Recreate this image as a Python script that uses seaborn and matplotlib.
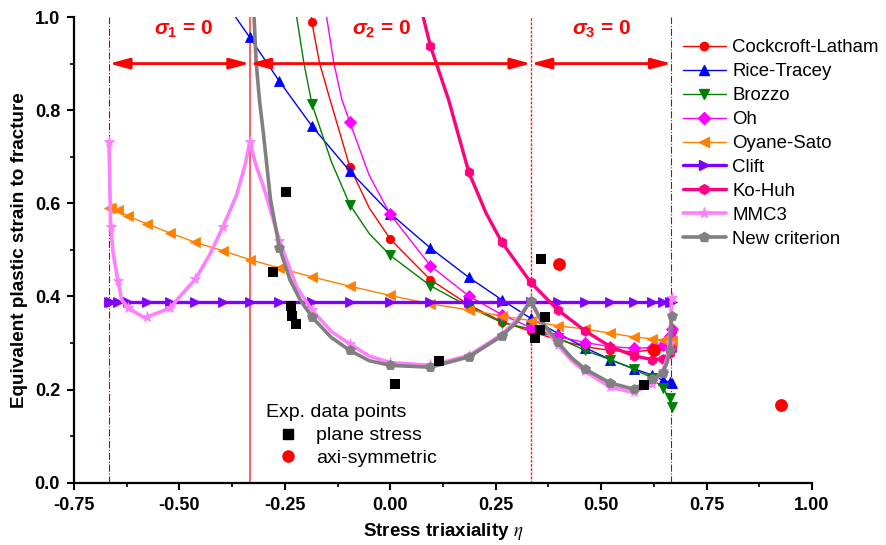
import matplotlib
matplotlib.use("Agg")
import matplotlib.pyplot as plt
import numpy as np
import pandas as pd
import seaborn as sns
from matplotlib.lines import Line2D

# stress triaxiality values where the curves carry markers
MARKER_ETA = [-0.667, -0.663, -0.646, -0.621, -0.577, -0.522, -0.462, -0.397, -0.333,
              -0.263, -0.186, -0.096, 0.0, 0.095, 0.186, 0.264, 0.333,
              0.397, 0.462, 0.522, 0.577, 0.621, 0.646, 0.663, 0.667]

cl_eta = [-0.187, -0.186, -0.168, -0.143, -0.096, -0.05, 0.0, 0.095, 0.186, 0.264, 0.333,
          0.397, 0.462, 0.522, 0.577, 0.621, 0.646, 0.663, 0.667]
cl_eps = [1.0, 0.989, 0.902, 0.823, 0.678, 0.59, 0.523, 0.436, 0.382, 0.346, 0.325,
          0.307, 0.292, 0.284, 0.281, 0.285, 0.293, 0.308, 0.325]

rt_eta = [-0.367, -0.333, -0.263, -0.186, -0.096, 0.0, 0.095, 0.186, 0.264, 0.333,
          0.397, 0.462, 0.522, 0.577, 0.621, 0.646, 0.663, 0.667]
rt_eps = [1.0, 0.956, 0.862, 0.766, 0.669, 0.578, 0.504, 0.441, 0.393, 0.353,
          0.321, 0.290, 0.264, 0.245, 0.231, 0.220, 0.216, 0.214]

br_eta = [-0.222, -0.205, -0.186, -0.14, -0.096, -0.05, 0.0, 0.095, 0.186, 0.264, 0.333,
          0.397, 0.462, 0.522, 0.577, 0.621, 0.646, 0.663, 0.667]
br_eps = [1.0, 0.902, 0.814, 0.69, 0.597, 0.535, 0.488, 0.423, 0.378, 0.344, 0.330,
          0.311, 0.284, 0.264, 0.244, 0.225, 0.203, 0.181, 0.163]

oh_eta = [-0.151, -0.134, -0.115, -0.096, -0.05, 0.0, 0.095, 0.186, 0.264, 0.333,
          0.397, 0.462, 0.522, 0.577, 0.621, 0.646, 0.663, 0.667]
oh_eps = [1.0, 0.902, 0.823, 0.774, 0.66, 0.576, 0.466, 0.401, 0.361, 0.333,
          0.314, 0.301, 0.292, 0.289, 0.290, 0.296, 0.315, 0.330]

os_eta = [-0.667, -0.663, -0.646, -0.621, -0.577, -0.522, -0.462, -0.397, -0.333,
          -0.263, -0.186, -0.096, 0.0, 0.095, 0.186, 0.264, 0.333,
          0.397, 0.462, 0.522, 0.577, 0.621, 0.646, 0.663, 0.667]
os_eps = [0.590, 0.589, 0.585, 0.572, 0.556, 0.536, 0.516, 0.498, 0.479,
          0.461, 0.442, 0.422, 0.402, 0.384, 0.371, 0.358, 0.348,
          0.337, 0.330, 0.321, 0.313, 0.309, 0.306, 0.305, 0.305]

cf_eta = list(os_eta)
cf_eps = [0.388] * len(cf_eta)

kh_eta = [0.078, 0.095, 0.138, 0.186, 0.227, 0.264, 0.333,
          0.397, 0.462, 0.522, 0.577, 0.621, 0.646, 0.663, 0.667]
kh_eps = [1.0, 0.938, 0.823, 0.667, 0.579, 0.517, 0.430,
          0.371, 0.326, 0.292, 0.273, 0.264, 0.266, 0.278, 0.287]

mmc_eta = [-0.667, -0.663, -0.657, -0.646, -0.637, -0.621, -0.585, -0.577, -0.522, -0.495,
           -0.462, -0.428, -0.397, -0.364, -0.345, -0.333,
           -0.318, -0.301, -0.263, -0.222, -0.186, -0.14, -0.096, -0.05, 0.0, 0.095,
           0.186, 0.264, 0.3, 0.333,
           0.36, 0.397, 0.43, 0.462, 0.522, 0.577, 0.621, 0.646, 0.657, 0.663, 0.667]
mmc_eps = [0.731, 0.549, 0.493, 0.434, 0.393, 0.375, 0.355, 0.356, 0.375, 0.404,
           0.437, 0.49, 0.549, 0.619, 0.68, 0.731,
           0.68, 0.637, 0.52, 0.42, 0.371, 0.325, 0.298, 0.272, 0.258, 0.252,
           0.273, 0.318, 0.35, 0.391,
           0.34, 0.296, 0.262, 0.239, 0.205, 0.194, 0.212, 0.24, 0.27, 0.30, 0.397]

new_eta = [-0.323, -0.318, -0.31, -0.301, -0.284, -0.263, -0.238, -0.214, -0.186, -0.14,
           -0.096, -0.05, 0.0, 0.095, 0.186, 0.264, 0.3, 0.333,
           0.36, 0.397, 0.43, 0.462, 0.522, 0.577, 0.621, 0.646, 0.657, 0.663, 0.667]
new_eps = [1.0, 0.902, 0.82, 0.751, 0.608, 0.505, 0.436, 0.393, 0.356, 0.312,
           0.284, 0.262, 0.252, 0.248, 0.270, 0.315, 0.345, 0.391,
           0.345, 0.302, 0.268, 0.244, 0.214, 0.201, 0.222, 0.235, 0.26, 0.284, 0.357]

# experimental points
ps_eta = [-0.248, -0.279, -0.235, -0.233, -0.224, 0.011, 0.116, 0.357, 0.368, 0.355, 0.343, 0.602]
ps_eps = [0.624, 0.452, 0.380, 0.357, 0.341, 0.212, 0.262, 0.480, 0.356, 0.327, 0.311, 0.210]
ax_eta = [0.401, 0.625, 0.926]
ax_eps = [0.470, 0.284, 0.167]

series = [
    ("Cockcroft-Latham", cl_eta, cl_eps, "#FF0000", "o", 1.0, 6),
    ("Rice-Tracey", rt_eta, rt_eps, "#0000FF", "^", 1.0, 7),
    ("Brozzo", br_eta, br_eps, "#008000", "v", 1.0, 7),
    ("Oh", oh_eta, oh_eps, "#FF00FF", "D", 1.0, 6),
    ("Oyane-Sato", os_eta, os_eps, "#FF8000", "<", 1.0, 7),
    ("Clift", cf_eta, cf_eps, "#8000FF", ">", 2.4, 7),
    ("Ko-Huh", kh_eta, kh_eps, "#FF0080", "h", 2.4, 7),
    ("MMC3", mmc_eta, mmc_eps, "#FF80FF", "*", 2.6, 8),
    ("New criterion", new_eta, new_eps, "#808080", "p", 2.6, 7),
]

sns.set_theme(style="ticks")
plt.rcParams["font.family"] = ["Liberation Sans", "DejaVu Sans"]
plt.rcParams["text.color"] = "black"
plt.rcParams["axes.labelcolor"] = "black"
plt.rcParams["xtick.color"] = "black"
plt.rcParams["ytick.color"] = "black"
plt.rcParams["mathtext.fontset"] = "custom"
plt.rcParams["mathtext.it"] = "Liberation Sans:bold:italic"
plt.rcParams["mathtext.rm"] = "Liberation Sans:bold"
plt.rcParams["mathtext.bf"] = "Liberation Sans:bold"

fig = plt.figure(figsize=(8.87, 5.45), dpi=100)
ax = fig.add_axes([0.0834, 0.1143, 0.8321, 0.8545])

# region boundaries
ax.axvline(-2 / 3, color="#C00000", lw=0.8, ls="-.", zorder=1)
ax.axvline(-1 / 3, color="#FF6060", lw=1.4, ls="-", zorder=1)
ax.axvline(1 / 3, color="#FF2020", lw=1.0, ls=(0, (2, 1)), zorder=1)
ax.axvline(2 / 3, color="#C00000", lw=0.8, ls="-.", zorder=1)

handles = []
for name, xs, ys, col, mk, lw, ms in series:
    df = pd.DataFrame({"eta": xs, "eps": ys})
    mask = list(np.isin(np.round(df["eta"].values, 3), MARKER_ETA))
    if name == "Cockcroft-Latham":
        mask[0] = False
    sns.lineplot(data=df, x="eta", y="eps", sort=False, estimator=None, ax=ax,
                 color=col, lw=lw, marker=mk, markersize=ms, markevery=mask,
                 markeredgewidth=0.6, markeredgecolor=col, zorder=3)
    handles.append(Line2D([], [], color=col, lw=lw, marker=mk, markersize=ms,
                          markeredgecolor=col, label=name))

sns.scatterplot(x=ps_eta, y=ps_eps, marker="s", color="black", s=50, linewidth=0, ax=ax, zorder=5)
sns.scatterplot(x=ax_eta, y=ax_eps, marker="o", color="#FF0000", s=85, linewidth=0, ax=ax, zorder=5)

# zone arrows and labels
for x0, x1 in [(-2 / 3, -1 / 3), (-1 / 3, 1 / 3), (1 / 3, 2 / 3)]:
    ax.annotate("", xy=(x1, 0.90), xytext=(x0, 0.90),
                arrowprops=dict(arrowstyle="<|-|>,head_length=1.2,head_width=0.32",
                                color="#FF0000", lw=2, mutation_scale=10,
                                shrinkA=0, shrinkB=0), zorder=6)
for xc, lab in [(-0.49, r"$\sigma_1$ = 0"), (-0.02, r"$\sigma_2$ = 0"), (0.5, r"$\sigma_3$ = 0")]:
    ax.text(xc, 0.961, lab, color="#FF0000", fontsize=15, fontweight="bold",
            ha="center", va="baseline", zorder=6)

ax.set_xlim(-0.75, 1.0)
ax.set_ylim(0.0, 1.0)
ax.set_xticks([-0.75, -0.5, -0.25, 0.0, 0.25, 0.5, 0.75, 1.0])
ax.set_xticks(np.arange(-0.625, 1.0, 0.25), minor=True)
ax.set_yticks([0.0, 0.2, 0.4, 0.6, 0.8, 1.0])
ax.set_yticks([0.1, 0.3, 0.5, 0.7, 0.9], minor=True)
ax.set_xticklabels(["-0.75", "-0.50", "-0.25", "0.00", "0.25", "0.50", "0.75", "1.00"])
ax.set_yticklabels(["0.0", "0.2", "0.4", "0.6", "0.8", "1.0"])
for lbl in ax.get_xticklabels() + ax.get_yticklabels():
    lbl.set_fontweight("bold")
    lbl.set_fontsize(13)
ax.tick_params(which="major", direction="out", length=5, width=1.5, colors="black", pad=5)
ax.tick_params(which="minor", direction="out", length=3, width=1.2, colors="black")
for s in ["top", "right"]:
    ax.spines[s].set_visible(False)
for s in ["left", "bottom"]:
    ax.spines[s].set_linewidth(1.6)
    ax.spines[s].set_color("black")

ax.set_xlabel(r"Stress triaxiality $\eta$", fontsize=13.5, fontweight="bold", labelpad=5,
              math_fontfamily="stix")
ax.set_ylabel("Equivalent plastic strain to fracture", fontsize=13.6, fontweight="bold", labelpad=5)

leg1 = ax.legend(handles=handles, loc="upper left", bbox_to_anchor=(0.825, 0.952),
                 frameon=False, fontsize=13.4, handlelength=2.3, handletextpad=0.35,
                 labelspacing=0.37, borderpad=0, borderaxespad=0)
ax.add_artist(leg1)

exp_handles = [
    Line2D([], [], ls="none", marker="s", color="black", markersize=7, label="plane stress"),
    Line2D([], [], ls="none", marker="o", color="#FF0000", markersize=8, label="axi-symmetric"),
]
ax.legend(handles=exp_handles, title="Exp. data points", loc="upper left",
          bbox_to_anchor=(0.260, 0.168), frameon=False, fontsize=14, title_fontsize=14,
          alignment="left", handlelength=2.3, handletextpad=0.3, labelspacing=0.27,
          borderpad=0, borderaxespad=0)

fig.savefig("out.png", dpi=100)
